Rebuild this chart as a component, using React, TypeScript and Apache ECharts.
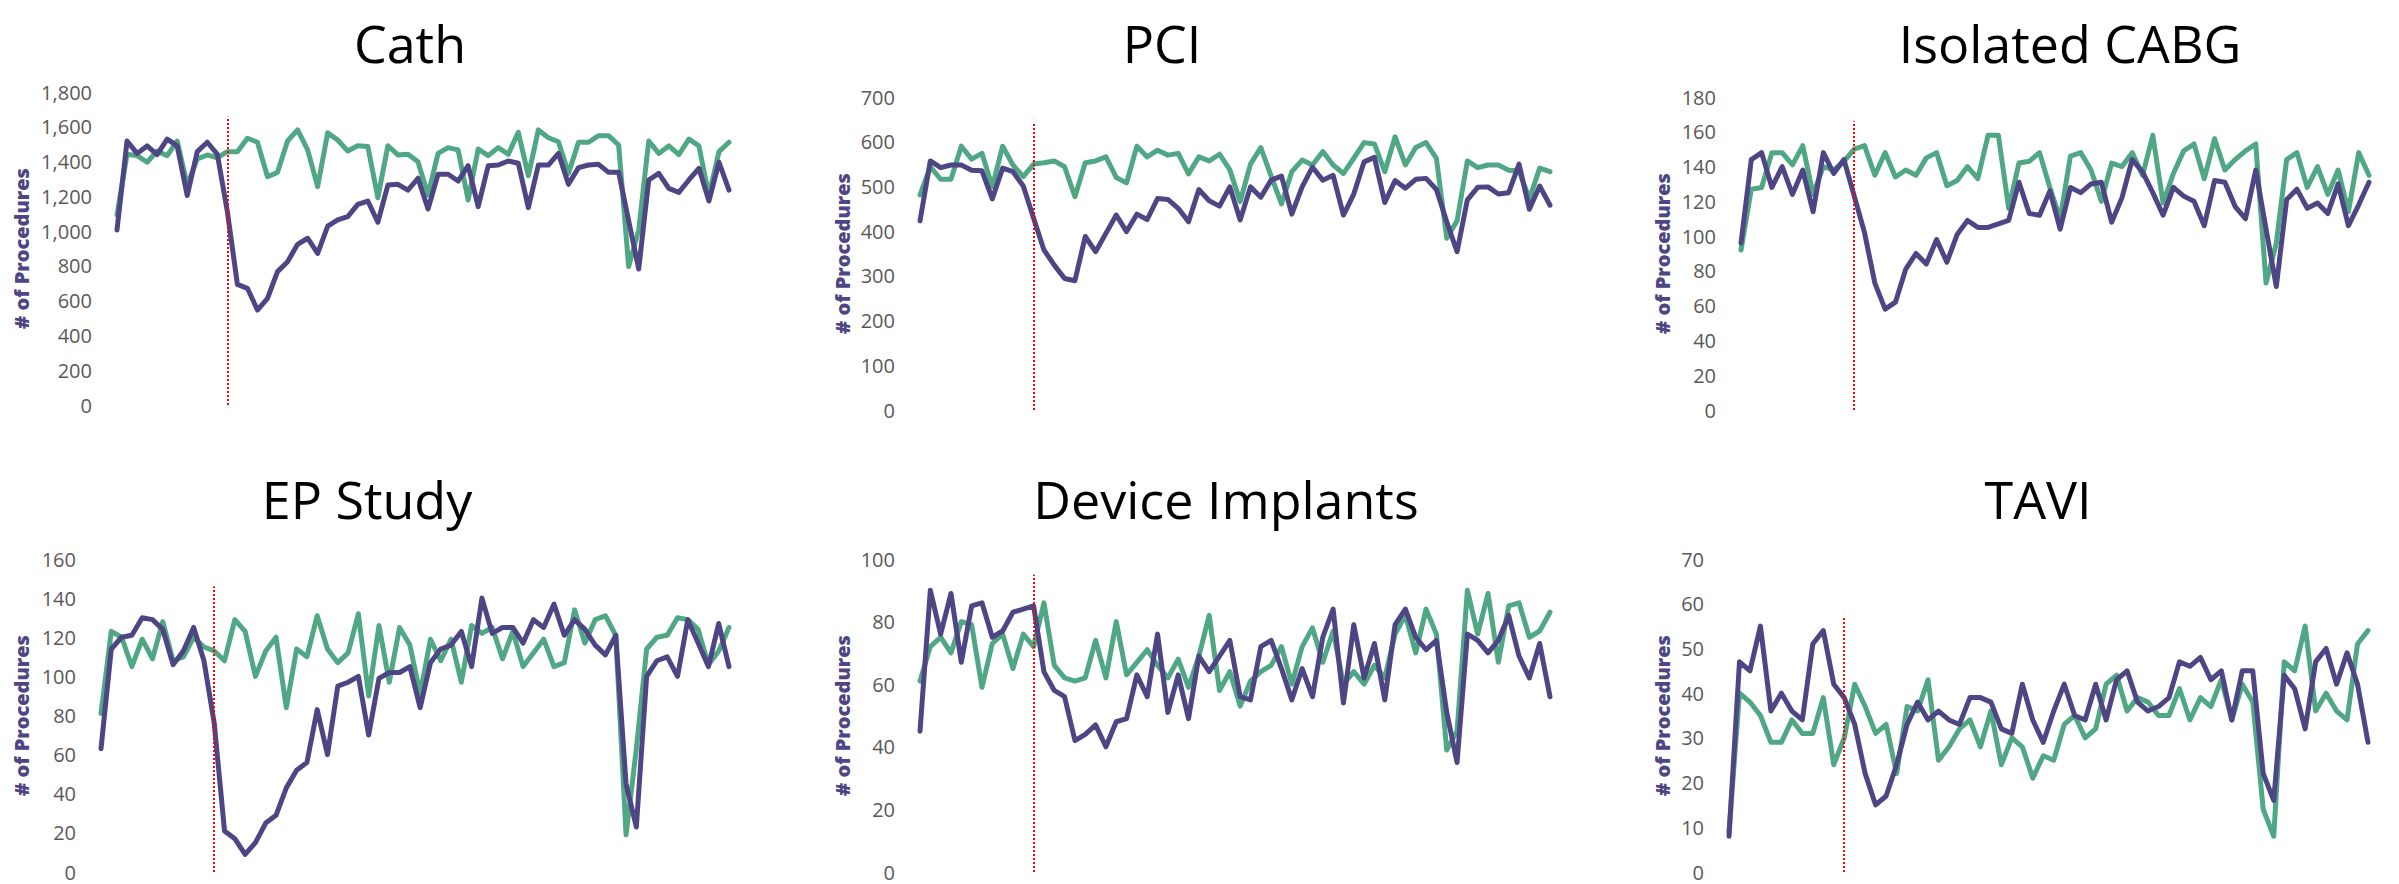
import React, { useEffect, useRef } from "react";
import * as echarts from "echarts";

// Week categories (weekly data, 62 weeks)
const weeks = [
  "1", "2", "3", "4", "5", "6", "7", "8", "9", "10",
  "11", "12", "13", "14", "15", "16", "17", "18", "19", "20",
  "21", "22", "23", "24", "25", "26", "27", "28", "29", "30",
  "31", "32", "33", "34", "35", "36", "37", "38", "39", "40",
  "41", "42", "43", "44", "45", "46", "47", "48", "49", "50",
  "51", "52", "53", "54", "55", "56", "57", "58", "59", "60",
  "61", "62",
];
const markerWeek = "12";

const cathCurrent = [1006, 1518, 1447, 1490, 1440, 1529, 1490, 1205, 1457, 1511, 1442, 1112, 694, 671, 546, 613, 767, 824, 924, 959, 872, 1029, 1064, 1083, 1154, 1173, 1051, 1265, 1269, 1236, 1304, 1127, 1327, 1327, 1288, 1376, 1141, 1376, 1380, 1403, 1390, 1135, 1380, 1380, 1447, 1269, 1365, 1380, 1384, 1338, 1338, 1060, 782, 1294, 1332, 1246, 1223, 1294, 1361, 1173, 1396, 1236];
const cathPrior = [1093, 1442, 1434, 1396, 1461, 1434, 1518, 1265, 1415, 1438, 1422, 1457, 1457, 1534, 1511, 1313, 1338, 1518, 1582, 1467, 1256, 1566, 1524, 1461, 1491, 1486, 1192, 1491, 1438, 1442, 1399, 1208, 1447, 1480, 1467, 1179, 1472, 1434, 1480, 1442, 1568, 1319, 1582, 1537, 1514, 1332, 1511, 1511, 1549, 1549, 1495, 796, 1006, 1518, 1447, 1490, 1440, 1529, 1490, 1205, 1457, 1511];

const pciCurrent = [423, 557, 542, 548, 548, 536, 535, 472, 541, 533, 501, 429, 358, 324, 294, 289, 388, 354, 395, 436, 399, 438, 426, 473, 471, 451, 421, 493, 468, 456, 499, 425, 499, 476, 514, 523, 438, 499, 543, 514, 525, 436, 483, 555, 565, 464, 513, 496, 516, 518, 493, 421, 354, 470, 498, 499, 483, 486, 550, 449, 501, 458];
const pciPrior = [481, 544, 516, 516, 590, 561, 574, 499, 590, 548, 522, 550, 553, 557, 544, 477, 553, 557, 566, 520, 508, 590, 566, 581, 570, 574, 528, 566, 557, 572, 537, 466, 550, 587, 523, 461, 533, 559, 548, 578, 548, 529, 563, 598, 595, 533, 611, 548, 587, 598, 563, 384, 423, 557, 542, 548, 548, 536, 535, 472, 541, 533];

const cabgCurrent = [96, 144, 148, 128, 140, 124, 138, 114, 148, 136, 144, 123, 102, 73, 58, 62, 81, 90, 84, 98, 85, 101, 109, 105, 105, 107, 109, 131, 113, 112, 126, 104, 128, 125, 130, 131, 108, 122, 144, 137, 125, 112, 128, 123, 120, 106, 132, 131, 117, 110, 138, 104, 71, 121, 127, 116, 119, 113, 130, 106, 118, 131];
const cabgPrior = [92, 127, 128, 148, 148, 141, 152, 124, 140, 138, 143, 150, 152, 135, 148, 134, 138, 135, 145, 148, 129, 132, 140, 133, 158, 158, 116, 142, 143, 148, 128, 110, 146, 148, 138, 120, 142, 140, 148, 135, 158, 119, 136, 149, 153, 133, 156, 138, 144, 149, 153, 73, 96, 144, 148, 128, 140, 124, 138, 114, 148, 135];

const epCurrent = [63, 114, 120, 121, 130, 129, 124, 106, 113, 125, 108, 76, 21, 17, 9, 15, 25, 29, 43, 52, 56, 83, 60, 95, 97, 100, 70, 99, 102, 102, 105, 84, 107, 114, 116, 123, 105, 140, 122, 125, 125, 117, 129, 125, 137, 121, 129, 124, 116, 111, 121, 45, 23, 100, 108, 110, 100, 129, 117, 105, 127, 105];
const epPrior = [81, 123, 120, 105, 119, 109, 128, 108, 110, 120, 115, 113, 108, 129, 123, 100, 113, 120, 84, 114, 110, 131, 114, 107, 112, 132, 90, 126, 97, 125, 116, 91, 119, 108, 119, 97, 126, 122, 125, 109, 123, 105, 112, 119, 105, 107, 134, 117, 129, 131, 121, 19, 63, 114, 120, 121, 130, 129, 124, 106, 113, 125];

const deviceCurrent = [45, 90, 76, 89, 67, 85, 86, 75, 77, 83, 84, 85, 64, 58, 56, 42, 44, 47, 40, 48, 49, 63, 56, 76, 51, 63, 49, 69, 64, 69, 74, 56, 55, 72, 74, 65, 55, 65, 56, 75, 84, 54, 79, 62, 73, 55, 79, 84, 75, 71, 74, 51, 35, 76, 74, 70, 74, 82, 69, 62, 73, 56];
const devicePrior = [61, 72, 75, 70, 80, 79, 59, 73, 76, 65, 76, 72, 86, 66, 62, 61, 62, 74, 62, 80, 63, 67, 71, 66, 62, 68, 59, 69, 82, 58, 64, 53, 61, 64, 66, 72, 60, 72, 78, 67, 77, 60, 64, 60, 66, 62, 76, 82, 70, 84, 76, 39, 45, 90, 76, 89, 67, 85, 86, 75, 77, 83];

const taviCurrent = [8, 47, 45, 55, 36, 40, 36, 34, 51, 54, 42, 39, 33, 22, 15, 17, 24, 33, 38, 34, 36, 34, 33, 39, 39, 38, 32, 31, 42, 34, 29, 36, 42, 35, 34, 42, 34, 43, 45, 38, 36, 37, 39, 47, 46, 48, 43, 45, 34, 45, 45, 22, 16, 44, 41, 32, 47, 50, 42, 49, 42, 29];
const taviPrior = [9, 40, 38, 35, 29, 29, 34, 31, 31, 39, 24, 30, 42, 37, 31, 33, 22, 37, 36, 43, 25, 28, 32, 34, 28, 36, 24, 30, 28, 21, 26, 25, 33, 35, 30, 32, 42, 44, 36, 39, 38, 35, 35, 41, 34, 39, 37, 43, 34, 42, 38, 14, 8, 47, 45, 55, 36, 40, 36, 34, 51, 54];

const titles = ["Cath", "PCI", "Isolated CABG", "EP Study", "Device Implants", "TAVI"];
const axisMax = [1800, 700, 180, 160, 100, 70];
const axisInterval = [200, 100, 20, 20, 20, 10];
const markerTop = [1658, 641, 166, 146, 95, 57];
const currentSeries = [cathCurrent, pciCurrent, cabgCurrent, epCurrent, deviceCurrent, taviCurrent];
const priorSeries = [cathPrior, pciPrior, cabgPrior, epPrior, devicePrior, taviPrior];

// Layout (pixels)
const layout = [
  { left: 117, top: 92, width: 612, height: 313, tx: 410, ty: 42, gap: 86 },
  { left: 920, top: 97, width: 630, height: 313, tx: 1162, ty: 42, gap: 68 },
  { left: 1741, top: 97, width: 628, height: 313, tx: 2070, ty: 42, gap: 69 },
  { left: 101, top: 559, width: 628, height: 313, tx: 367, ty: 498, gap: 70 },
  { left: 920, top: 559, width: 630, height: 313, tx: 1226, ty: 498, gap: 68 },
  { left: 1729, top: 559, width: 639, height: 313, tx: 2038, ty: 498, gap: 57 },
];

const PURPLE = "#4E4584";
const GREEN = "#50A783";

export default function App() {
  const ref = useRef<HTMLDivElement>(null);
  useEffect(() => {
    document.body.style.margin = "0";
    if (!ref.current) return;
    const chart = echarts.init(ref.current, undefined, { renderer: "svg" });
    const grid: any[] = [];
    const xAxis: any[] = [];
    const yAxis: any[] = [];
    const series: any[] = [];
    const graphic: any[] = [];
    layout.forEach((l, i) => {
      grid.push({ left: l.left, top: l.top, width: l.width, height: l.height, containLabel: false });
      xAxis.push({
        type: "category",
        gridIndex: i,
        data: weeks,
        boundaryGap: false,
        show: false,
      });
      yAxis.push({
        type: "value",
        gridIndex: i,
        min: 0,
        max: axisMax[i],
        interval: axisInterval[i],
        name: "# of Procedures",
        nameLocation: "middle",
        nameGap: l.gap,
        nameTextStyle: {
          color: PURPLE,
          fontWeight: 800,
          fontSize: 20,
          fontFamily: "Open Sans",
        },
        axisLine: { show: false },
        axisTick: { show: false },
        splitLine: { show: false },
        axisLabel: {
          color: "#595959",
          fontSize: 20,
          fontFamily: "Open Sans",
          margin: 25,
          formatter: (v: number) => v.toLocaleString("en-US"),
        },
      });
      series.push({
        type: "line",
        name: titles[i] + " prior",
        xAxisIndex: i,
        yAxisIndex: i,
        data: priorSeries[i],
        symbol: "none",
        lineStyle: { color: GREEN, width: 5, join: "round", cap: "round" },
        itemStyle: { color: GREEN },
        z: 2,
      });
      series.push({
        type: "line",
        name: titles[i] + " current",
        xAxisIndex: i,
        yAxisIndex: i,
        data: currentSeries[i],
        symbol: "none",
        lineStyle: { color: PURPLE, width: 5, join: "round", cap: "round" },
        itemStyle: { color: PURPLE },
        z: 3,
        markLine: {
          silent: true,
          symbol: ["none", "none"],
          label: { show: false },
          lineStyle: { color: "#FF0000", type: "dotted", width: 2 },
          data: [[{ coord: [markerWeek, 0] }, { coord: [markerWeek, markerTop[i]] }]],
          z: 5,
        },
      });
      graphic.push({
        type: "text",
        x: l.tx,
        y: l.ty,
        style: {
          text: titles[i],
          fill: "#000000",
          fontSize: 52,
          fontFamily: "Open Sans",
          align: "center",
          verticalAlign: "middle",
        },
      });
    });
    chart.setOption({
      animation: false,
      backgroundColor: "#ffffff",
      grid,
      xAxis,
      yAxis,
      series,
      graphic,
    });
    return () => chart.dispose();
  }, []);
  return <div ref={ref} style={{ width: 2399, height: 884, overflow: "hidden" }} />;
}
